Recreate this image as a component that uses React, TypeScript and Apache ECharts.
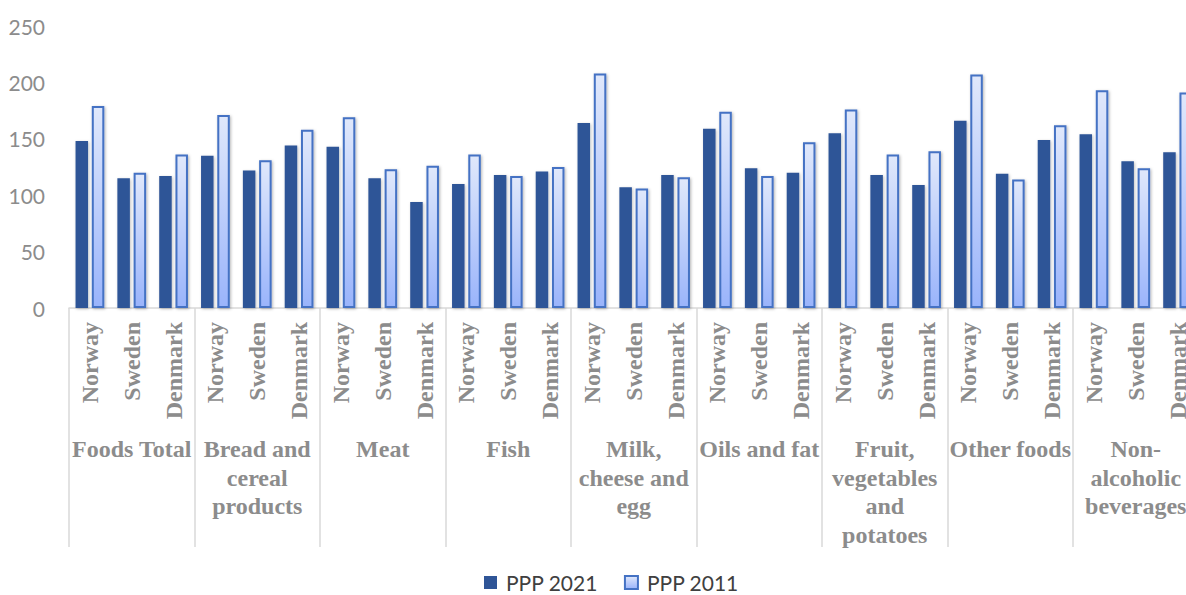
import React, { useEffect, useRef } from "react";
import * as echarts from "echarts";

// Product groups (outer level of the category axis)
const groups: string[] = [
  "Foods Total",
  "Bread and\ncereal\nproducts",
  "Meat",
  "Fish",
  "Milk,\ncheese and\negg",
  "Oils and fat",
  "Fruit,\nvegetables\nand\npotatoes",
  "Other foods",
  "Non-\nalcoholic\nbeverages",
];

// Countries within each group (inner level of the category axis)
const countries: string[] = ["Norway", "Sweden", "Denmark"];

// Price level index, PPP 2021, in order group by group: Norway, Sweden, Denmark
const ppp2021: number[] = [
  148, 115, 117,
  135, 122, 144,
  143, 115, 94,
  110, 118, 121,
  164, 107, 118,
  159, 124, 120,
  155, 118, 109,
  166, 119, 149,
  154, 130, 138,
];

// Price level index, PPP 2011
const ppp2011: number[] = [
  179, 120, 136,
  171, 131, 158,
  169, 123, 126,
  136, 117, 125,
  208, 106, 116,
  174, 117, 147,
  176, 136, 139,
  207, 114, 162,
  193, 124, 191,
];

const yTicks = { min: 0, max: 250, interval: 50 };

const GREY = "#8c8c8c";
const SERIF = "'Liberation Serif', 'Times New Roman', serif";
const SANS = "Lato, 'Open Sans', sans-serif";

export default function App() {
  const ref = useRef<HTMLDivElement>(null);

  useEffect(() => {
    document.body.style.margin = "0";
    if (!ref.current) return;
    const chart = echarts.init(ref.current, undefined, { renderer: "svg" });

    const innerLabels = groups.flatMap(() => countries);

    chart.setOption({
      animation: false,
      backgroundColor: "#ffffff",
      // plot area runs a little past the right edge of the canvas
      grid: {
        left: 69,
        top: 26,
        height: 282,
        width: 1129.5,
        containLabel: false,
        outerBoundsMode: "none",
      },
      legend: {
        left: 479,
        top: 567,
        itemWidth: 13,
        itemHeight: 13,
        itemGap: 26,
        icon: "rect",
        textStyle: {
          fontFamily: SANS,
          fontSize: 21,
          color: "#404040",
          padding: [0, 0, 0, 4],
        },
        data: ["PPP 2021", "PPP 2011"],
      },
      xAxis: [
        {
          type: "category",
          data: innerLabels,
          position: "bottom",
          axisLine: { show: true, lineStyle: { color: "#d9d9d9", width: 1.5 } },
          axisTick: { show: false },
          splitLine: { show: false },
          axisLabel: {
            interval: 0,
            rotate: 90,
            margin: 14,
            fontFamily: SERIF,
            fontWeight: "bold",
            fontSize: 24,
            color: GREY,
          },
        },
        {
          type: "category",
          data: groups,
          position: "bottom",
          axisLine: { show: false },
          axisTick: {
            show: true,
            interval: 0,
            length: 239,
            lineStyle: { color: "#d9d9d9", width: 1.5 },
          },
          splitLine: { show: false },
          axisLabel: {
            interval: 0,
            margin: 127,
            fontFamily: SERIF,
            fontWeight: "bold",
            fontSize: 24,
            lineHeight: 28.5,
            color: GREY,
            align: "center",
          },
        },
      ],
      yAxis: {
        type: "value",
        min: yTicks.min,
        max: yTicks.max,
        interval: yTicks.interval,
        axisLine: { show: false },
        axisTick: { show: false },
        splitLine: { show: false },
        axisLabel: { margin: 24, fontFamily: SANS, fontSize: 21, color: GREY },
      },
      series: [
        {
          name: "PPP 2021",
          type: "bar",
          xAxisIndex: 0,
          data: ppp2021,
          barWidth: 12.5,
          barGap: "30%",
          itemStyle: {
            color: "#2f5597",
            shadowBlur: 3,
            shadowColor: "rgba(0,0,0,0.25)",
            shadowOffsetX: 1,
            shadowOffsetY: 1,
          },
        },
        {
          name: "PPP 2011",
          type: "bar",
          xAxisIndex: 0,
          data: ppp2011,
          barWidth: 12.5,
          barGap: "30%",
          itemStyle: {
            color: new echarts.graphic.LinearGradient(0, 0, 0, 1, [
              { offset: 0, color: "#e0e8fb" },
              { offset: 1, color: "#9ab4fb" },
            ]),
            borderColor: "#4472c4",
            borderWidth: 2,
            shadowBlur: 3,
            shadowColor: "rgba(0,0,0,0.3)",
            shadowOffsetX: 1,
            shadowOffsetY: 1,
          },
        },
      ],
    });

    return () => chart.dispose();
  }, []);

  return (
    <div
      ref={ref}
      style={{ position: "absolute", left: 0, top: 0, width: 1186, height: 595, overflow: "hidden" }}
    />
  );
}
